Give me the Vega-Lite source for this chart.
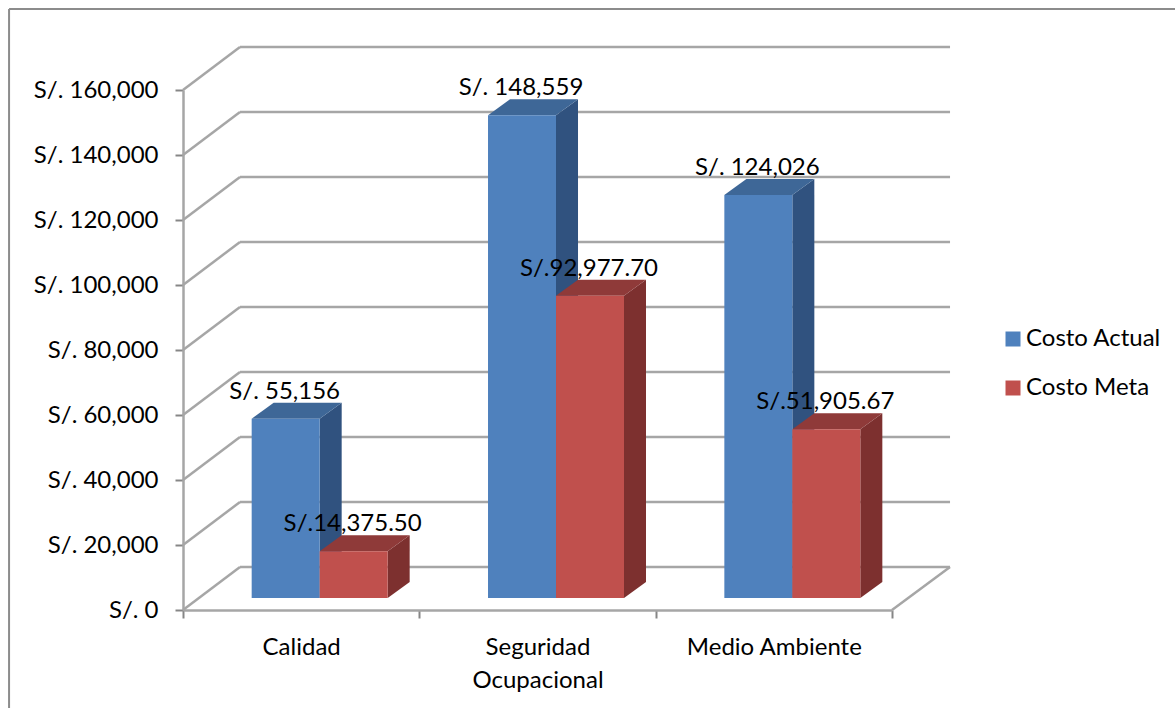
{
  "$schema": "https://vega.github.io/schema/vega-lite/v6.json",
  "width": 709,
  "height": 520,
  "autosize": {"type": "none"},
  "padding": {"left": 183, "top": 90, "right": 283, "bottom": 98},
  "background": "white",
  "config": {
    "view": {"stroke": null},
    "text": {"font": "Lato"},
    "legend": {"labelFont": "Lato", "labelFontSize": 24, "labelColor": "black"}
  },
  "datasets": {
    "marcas": [
      {"marca": 0}, {"marca": 20000}, {"marca": 40000}, {"marca": 60000}, {"marca": 80000},
      {"marca": 100000}, {"marca": 120000}, {"marca": 140000}, {"marca": 160000}
    ],
    "costos": [
      {"categoria": "Calidad", "serie": "Costo Actual", "valor": 55156},
      {"categoria": "Calidad", "serie": "Costo Meta", "valor": 14375.5},
      {"categoria": "Seguridad Ocupacional", "serie": "Costo Actual", "valor": 148559},
      {"categoria": "Seguridad Ocupacional", "serie": "Costo Meta", "valor": 92977.7},
      {"categoria": "Medio Ambiente", "serie": "Costo Actual", "valor": 124026},
      {"categoria": "Medio Ambiente", "serie": "Costo Meta", "valor": 51905.67}
    ]
  },
  "layer": [
    {
      "layer": [
        {
          "data": {"name": "marcas"},
          "transform": [{"filter": "datum.marca === 0"}],
          "mark": {"type": "rule", "stroke": "#8C8C8C", "strokeWidth": 2},
          "encoding": {
            "x": {"datum": -0.736, "type": "quantitative", "scale": {"domain": [0, 3], "nice": false, "zero": false}, "axis": null},
            "x2": {"datum": 5.5},
            "y": {"datum": 184923, "type": "quantitative", "scale": {"domain": [0, 160000], "nice": false, "zero": false}, "axis": {"title": null}}
          }
        },
        {
          "data": {"name": "marcas"},
          "transform": [{"filter": "datum.marca === 0"}],
          "mark": {"type": "rule", "stroke": "#8C8C8C", "strokeWidth": 2},
          "encoding": {
            "x": {"datum": -0.736, "type": "quantitative", "scale": {"domain": [0, 3], "nice": false, "zero": false}, "axis": null},
            "y": {"datum": 184923, "type": "quantitative", "scale": {"domain": [0, 160000], "nice": false, "zero": false}, "axis": {"title": null}},
            "y2": {"datum": -40000}
          }
        },
        {
          "data": {"name": "marcas"},
          "transform": [{"calculate": "datum.marca + 13231", "as": "fondo"}],
          "mark": {"type": "rule", "stroke": "#A6A6A6", "strokeWidth": 2.5},
          "encoding": {
            "x": {"datum": 0.2412, "type": "quantitative", "scale": {"domain": [0, 3], "nice": false, "zero": false}, "axis": null},
            "x2": {"datum": 3.2455},
            "y": {"field": "fondo", "type": "quantitative", "scale": {"domain": [0, 160000], "nice": false, "zero": false}, "axis": {"title": null}}
          }
        },
        {
          "data": {"name": "marcas"},
          "transform": [{"calculate": "datum.marca + 13231", "as": "fondo"}],
          "mark": {"type": "rule", "stroke": "#A6A6A6", "strokeWidth": 2.5},
          "encoding": {
            "x": {"datum": 0, "type": "quantitative", "scale": {"domain": [0, 3], "nice": false, "zero": false}, "axis": null},
            "x2": {"datum": 0.2412},
            "y": {"field": "marca", "type": "quantitative", "scale": {"domain": [0, 160000], "nice": false, "zero": false}, "axis": {"title": null}},
            "y2": {"field": "fondo"}
          }
        },
        {
          "data": {"name": "marcas"},
          "transform": [{"filter": "datum.marca === 0"}],
          "mark": {"type": "rule", "stroke": "#A6A6A6", "strokeWidth": 2.5},
          "encoding": {
            "x": {"datum": 3, "type": "quantitative", "scale": {"domain": [0, 3], "nice": false, "zero": false}, "axis": null},
            "x2": {"datum": 3.2455},
            "y": {"datum": 0, "type": "quantitative", "scale": {"domain": [0, 160000], "nice": false, "zero": false}, "axis": {"title": null}},
            "y2": {"datum": 13231}
          }
        },
        {
          "data": {"name": "costos"},
          "transform": [
            {"calculate": "indexof(['Calidad','Seguridad Ocupacional','Medio Ambiente'], datum.categoria)", "as": "i"},
            {"calculate": "datum.serie === 'Costo Meta' ? 1 : 0", "as": "s"},
            {"calculate": "datum.i + 0.5783 + (datum.s - 1) * 0.2877", "as": "xIzq"},
            {"calculate": "datum.xIzq + 0.2877", "as": "xDer"},
            {"calculate": "datum.valor + 3692", "as": "cima"}
          ],
          "layer": [
            {
              "transform": [
                {"filter": "datum.s === 0"},
                {"calculate": "[0, 1]", "as": "t"},
                {"flatten": ["t"]},
                {"calculate": "datum.xDer + datum.t * 0.0931", "as": "px"},
                {"calculate": "3692 + datum.t * 4923", "as": "pBase"},
                {"calculate": "datum.cima + datum.t * 4923", "as": "pCima"}
              ],
              "mark": {"type": "area", "fill": "#30527F", "interpolate": "linear"},
              "encoding": {
                "x": {"field": "px", "type": "quantitative", "scale": {"domain": [0, 3], "nice": false, "zero": false}, "axis": null},
                "y": {"field": "pBase", "type": "quantitative", "stack": null, "scale": {"domain": [0, 160000], "nice": false, "zero": false}, "axis": {"title": null}},
                "y2": {"field": "pCima"},
                "detail": {"field": "categoria"}
              }
            },
            {
              "transform": [
                {"filter": "datum.s === 0"},
                {"calculate": "[0, 1, 2, 3]", "as": "t"},
                {"flatten": ["t"]},
                {"calculate": "datum.xIzq + (datum.t === 1 || datum.t === 3 ? 0.0931 : 0) + (datum.t >= 2 ? 0.2877 : 0)", "as": "px"},
                {"calculate": "datum.t === 3 ? datum.cima + 4923 : datum.cima", "as": "pBajo"},
                {"calculate": "datum.t === 0 ? datum.cima : datum.cima + 4923", "as": "pAlto"}
              ],
              "mark": {"type": "area", "fill": "#3E6797", "interpolate": "linear"},
              "encoding": {
                "x": {"field": "px", "type": "quantitative", "scale": {"domain": [0, 3], "nice": false, "zero": false}, "axis": null},
                "y": {"field": "pBajo", "type": "quantitative", "stack": null, "scale": {"domain": [0, 160000], "nice": false, "zero": false}, "axis": {"title": null}},
                "y2": {"field": "pAlto"},
                "detail": {"field": "categoria"}
              }
            },
            {
              "transform": [
                {"filter": "datum.s === 1"},
                {"calculate": "[0, 1]", "as": "t"},
                {"flatten": ["t"]},
                {"calculate": "datum.xDer + datum.t * 0.0931", "as": "px"},
                {"calculate": "3692 + datum.t * 4923", "as": "pBase"},
                {"calculate": "datum.cima + datum.t * 4923", "as": "pCima"}
              ],
              "mark": {"type": "area", "fill": "#7D302F", "interpolate": "linear"},
              "encoding": {
                "x": {"field": "px", "type": "quantitative", "scale": {"domain": [0, 3], "nice": false, "zero": false}, "axis": null},
                "y": {"field": "pBase", "type": "quantitative", "stack": null, "scale": {"domain": [0, 160000], "nice": false, "zero": false}, "axis": {"title": null}},
                "y2": {"field": "pCima"},
                "detail": {"field": "categoria"}
              }
            },
            {
              "transform": [
                {"filter": "datum.s === 1"},
                {"calculate": "[0, 1, 2, 3]", "as": "t"},
                {"flatten": ["t"]},
                {"calculate": "datum.xIzq + (datum.t === 1 || datum.t === 3 ? 0.0931 : 0) + (datum.t >= 2 ? 0.2877 : 0)", "as": "px"},
                {"calculate": "datum.t === 3 ? datum.cima + 4923 : datum.cima", "as": "pBajo"},
                {"calculate": "datum.t === 0 ? datum.cima : datum.cima + 4923", "as": "pAlto"}
              ],
              "mark": {"type": "area", "fill": "#8F3A39", "interpolate": "linear"},
              "encoding": {
                "x": {"field": "px", "type": "quantitative", "scale": {"domain": [0, 3], "nice": false, "zero": false}, "axis": null},
                "y": {"field": "pBajo", "type": "quantitative", "stack": null, "scale": {"domain": [0, 160000], "nice": false, "zero": false}, "axis": {"title": null}},
                "y2": {"field": "pAlto"},
                "detail": {"field": "categoria"}
              }
            },
            {
              "mark": {"type": "rect"},
              "encoding": {
                "x": {"field": "xIzq", "type": "quantitative", "scale": {"domain": [0, 3], "nice": false, "zero": false}, "axis": null},
                "x2": {"field": "xDer"},
                "y": {"field": "cima", "type": "quantitative", "scale": {"domain": [0, 160000], "nice": false, "zero": false}, "axis": {"title": null}},
                "y2": {"datum": 3692},
                "fill": {
                  "field": "serie",
                  "type": "nominal",
                  "scale": {"domain": ["Costo Actual", "Costo Meta"], "range": ["#4F81BD", "#C0504D"]},
                  "legend": {
                    "title": null,
                    "orient": "none",
                    "legendX": 818,
                    "legendY": 237,
                    "symbolType": "square",
                    "symbolSize": 225,
                    "symbolStrokeWidth": 0,
                    "labelOffset": 1,
                    "rowPadding": 25
                  }
                }
              }
            },
            {
              "transform": [
                {"calculate": "datum.s === 0 ? 'S/. ' + format(datum.valor, ',.0f') : 'S/.' + format(datum.valor, ',.2f')", "as": "etiqueta"},
                {"calculate": "(datum.xIzq + datum.xDer) / 2", "as": "xMedio"}
              ],
              "mark": {"type": "text", "fontSize": 24, "font": "Lato", "color": "black", "dy": -27, "dx": -1, "baseline": "middle", "align": "center"},
              "encoding": {
                "x": {"field": "xMedio", "type": "quantitative", "scale": {"domain": [0, 3], "nice": false, "zero": false}, "axis": null},
                "y": {"field": "cima", "type": "quantitative", "scale": {"domain": [0, 160000], "nice": false, "zero": false}, "axis": {"title": null}},
                "text": {"field": "etiqueta"}
              }
            }
          ]
        }
      ]
    },
    {
      "data": {"name": "costos"},
      "mark": {"type": "bar", "opacity": 0},
      "encoding": {
        "x": {
          "field": "categoria",
          "type": "nominal",
          "sort": ["Calidad", "Seguridad Ocupacional", "Medio Ambiente"],
          "scale": {"paddingInner": 0, "paddingOuter": 0},
          "axis": {
            "title": null,
            "labelAngle": 0,
            "labelFont": "Lato",
            "labelFontSize": 24,
            "labelColor": "black",
            "labelPadding": 17,
            "labelLimit": 300,
            "labelLineHeight": 33,
            "labelExpr": "datum.value === 'Seguridad Ocupacional' ? ['Seguridad', 'Ocupacional'] : datum.value",
            "tickBand": "extent",
            "tickSize": 8,
            "tickWidth": 2,
            "tickColor": "#868686",
            "domainColor": "#A6A6A6",
            "domainWidth": 2.5,
            "grid": false
          }
        },
        "y": {
          "datum": 0,
          "type": "quantitative",
          "scale": {"domain": [0, 160000], "nice": false, "zero": false},
          "axis": {
            "title": null,
            "values": [0, 20000, 40000, 60000, 80000, 100000, 120000, 140000, 160000],
            "labelExpr": "'S/. ' + format(datum.value, ',')",
            "labelFont": "Lato",
            "labelFontSize": 24,
            "labelColor": "black",
            "labelPadding": 17,
            "tickSize": 8,
            "tickWidth": 2,
            "tickColor": "#868686",
            "domainColor": "#A6A6A6",
            "domainWidth": 2.5,
            "grid": false
          }
        }
      }
    }
  ],
  "resolve": {"scale": {"x": "independent"}, "axis": {"x": "independent"}}
}
